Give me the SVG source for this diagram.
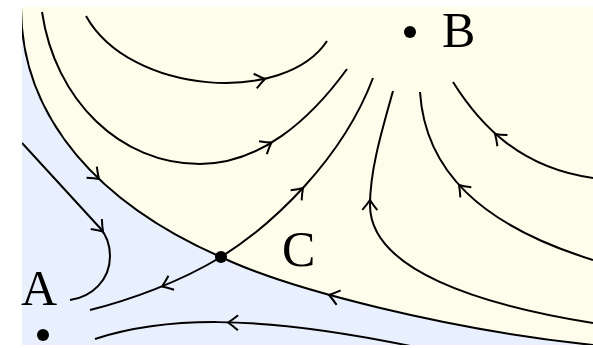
<svg xmlns="http://www.w3.org/2000/svg" xmlns:xlink="http://www.w3.org/1999/xlink" width="593" height="348" viewBox="0 0 593 348">
<style>
.curve{fill:none;stroke:#000;stroke-width:2}
.arr{fill:none;stroke:#000;stroke-width:2;stroke-linecap:butt;stroke-linejoin:miter}
.dot{fill:#000}
.lbl{font-family:"Liberation Serif","Times New Roman",serif;font-size:50px;fill:#000}
</style>
<defs>
<clipPath id="frame"><rect x="22" y="7" width="571" height="338"/></clipPath>
<path id="chev" class="arr" d="M-10,-7.5 Q-4,-2.5 0,0 Q-4,2.5 -10,7.5"/>
</defs>
<rect x="22" y="7" width="571" height="338" fill="#e8effd"/>
<path d="M21,7 C21,120 102,205 221,257 C290,290 450,330 593,345 L593,7 Z" fill="#fefdeb"/>
<g id="connectors" clip-path="url(#frame)">
<path class="curve" d="M21,7 C21,120 102,205 221,257 C290,290 450,330 593,345"/>
<path class="curve" d="M221,257 C272,225 342,160 373,78"/>
<path class="curve" d="M221,257 C180,282 130,300 90,310"/>
<path class="curve" d="M86,16 C130,95 285,105 327,41"/>
<path class="curve" d="M42,12 C55,100 120,164 200,164 C260,164 310,120 347,69"/>
<path class="curve" d="M393,91 C382,130 370,170 370,205 C370,270 480,305 593,323"/>
<path class="curve" d="M420,92 C425,170 480,225 593,260"/>
<path class="curve" d="M453,82 C480,125 520,168 593,178"/>
<path class="curve" d="M22,143 L100,228 C107,236 110,245 110,256 C110,280 92,297 70,300"/>
<path class="curve" d="M95,339 C160,318 250,312 420,348"/>
<use xlink:href="#chev" transform="translate(265,79) rotate(-12)"/>
<use xlink:href="#chev" transform="translate(271.5,142.5) rotate(-31)"/>
<use xlink:href="#chev" transform="translate(303,188) rotate(-47)"/>
<use xlink:href="#chev" transform="translate(370,200) rotate(-89)"/>
<use xlink:href="#chev" transform="translate(459,185) rotate(-133)"/>
<use xlink:href="#chev" transform="translate(495,134) rotate(-138)"/>
<use xlink:href="#chev" transform="translate(99,179) rotate(43)"/>
<use xlink:href="#chev" transform="translate(103,231.5) rotate(48)"/>
<use xlink:href="#chev" transform="translate(162,286.5) rotate(158)"/>
<use xlink:href="#chev" transform="translate(329,295) rotate(195.5)"/>
<use xlink:href="#chev" transform="translate(228,322.5) rotate(181)"/>
</g>
<g id="node-A">
<circle class="dot" cx="43" cy="335" r="6"/>
<text class="lbl" x="21" y="305">A</text>
</g>
<g id="node-B">
<circle class="dot" cx="410" cy="32" r="6"/>
<text class="lbl" x="442" y="47">B</text>
</g>
<g id="node-C">
<circle class="dot" cx="221" cy="257" r="6"/>
<text class="lbl" x="282" y="266">C</text>
</g>
</svg>
